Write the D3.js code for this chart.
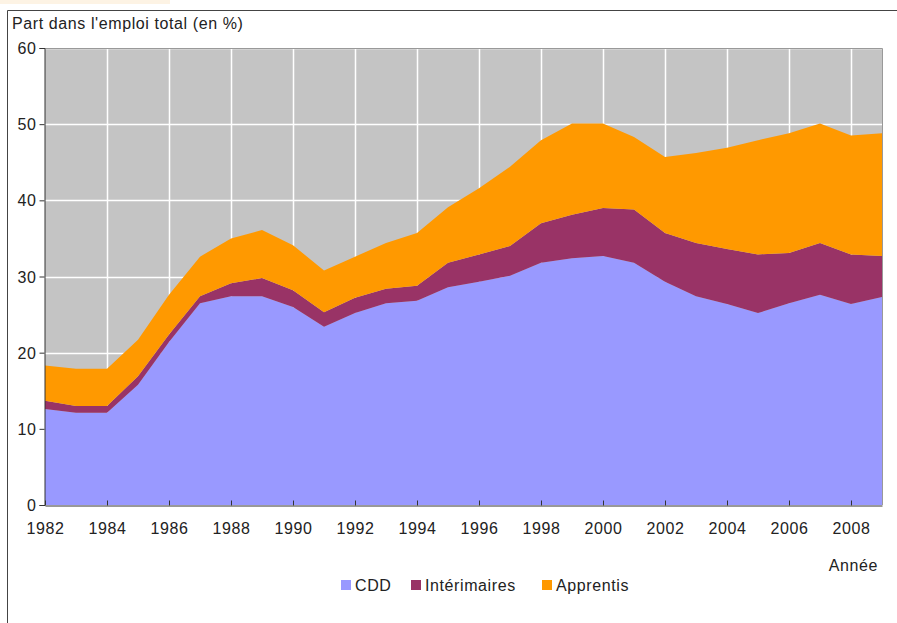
<!DOCTYPE html>
<html>
<head>
<meta charset="utf-8">
<script src="https://cdn.jsdelivr.net/npm/d3@7"></script>
<style>
  body { margin: 0; background: #fff; }
  svg text { font-family: "Liberation Sans", Arial, sans-serif; fill: #222; letter-spacing: 0.6px; }
</style>
</head>
<body>
<svg id="chart" width="897" height="623"></svg>
<script>
// years 1982 -> 2009
const years = d3.range(1982, 2010);
const cdd = [12.6, 12.1, 12.1, 15.8, 21.4, 26.5, 27.4, 27.4, 26.0, 23.4, 25.2, 26.5, 26.8, 28.6,
             29.3, 30.1, 31.8, 32.4, 32.7, 31.8, 29.3, 27.4, 26.4, 25.2, 26.5, 27.6, 26.4, 27.3];
const interim = [1.1, 0.9, 0.9, 1.1, 1.0, 0.9, 1.7, 2.4, 2.2, 1.9, 2.0, 1.9, 2.0, 3.2,
                 3.6, 3.9, 5.2, 5.7, 6.3, 7.0, 6.4, 7.0, 7.2, 7.7, 6.6, 6.8, 6.5, 5.4];
const apprentis = [4.6, 4.9, 4.9, 4.8, 5.2, 5.2, 5.9, 6.3, 5.9, 5.5, 5.4, 6.0, 6.9, 7.3,
                   8.7, 10.4, 10.9, 12.0, 11.1, 9.5, 10.0, 11.8, 13.3, 15.0, 15.7, 15.7, 15.6, 16.1];
const seriesNames = ["CDD", "Intérimaires", "Apprentis"];
const colors = ["#9999ff", "#993366", "#ff9900"];
const yTicks = [0, 10, 20, 30, 40, 50, 60];
const xTicks = d3.range(1982, 2009, 2);

const svg = d3.select("#chart");
const margin = { top: 48, left: 45, right: 882, bottom: 505 };
const fs = 16;

// frame
svg.append("rect").attr("x", 0).attr("y", 0).attr("width", 170).attr("height", 4)
    .attr("fill", "#fdf3e4");
svg.append("path").attr("d", "M7.5,623 V10.5 H897")
    .attr("fill", "none").attr("stroke", "#444").attr("stroke-width", 1);

const x = d3.scaleLinear().domain([1982, 2009]).range([margin.left, margin.right]);
const y = d3.scaleLinear().domain([0, 60]).range([margin.bottom, margin.top]);

// plot background
svg.append("rect")
    .attr("x", x(1982)).attr("y", y(60))
    .attr("width", x(2009) - x(1982)).attr("height", y(0) - y(60))
    .attr("fill", "#c4c4c4");

// grid
svg.append("g").selectAll("line").data(yTicks.slice(1))
    .join("line")
    .attr("x1", x(1982)).attr("x2", x(2009))
    .attr("y1", d => Math.round(y(d)) + 0.5).attr("y2", d => Math.round(y(d)) + 0.5)
    .attr("stroke", "#fff").attr("stroke-width", 1.5);
svg.append("g").selectAll("line").data(xTicks.slice(1))
    .join("line")
    .attr("x1", d => Math.round(x(d)) + 0.5).attr("x2", d => Math.round(x(d)) + 0.5)
    .attr("y1", y(60)).attr("y2", y(0))
    .attr("stroke", "#fff").attr("stroke-width", 1.5);

// stacked areas
const table = years.map((yr, i) => ({ year: yr, "CDD": cdd[i], "Intérimaires": interim[i], "Apprentis": apprentis[i] }));
const stack = d3.stack().keys(seriesNames)(table);
const area = d3.area()
    .x(d => x(d.data.year))
    .y0(d => y(d[0]))
    .y1(d => y(d[1]));

svg.append("g").selectAll("path").data(stack)
    .join("path")
    .attr("d", area)
    .attr("fill", (d, i) => colors[i]);

// plot border top/right
svg.append("path")
    .attr("d", `M${x(1982)},${y(60) + 0.5} H${x(2009) + 0.5} V${y(0)}`)
    .attr("fill", "none").attr("stroke", "#999").attr("stroke-width", 1);

// axes
const yAxis = d3.axisLeft(y).tickValues(yTicks).tickSize(5).tickPadding(3);
svg.append("g")
    .attr("transform", `translate(${x(1982) - 0.5},0)`)
    .call(yAxis)
    .call(g => g.selectAll("text").attr("font-size", fs).attr("dy", "0.35em"))
    .call(g => g.selectAll("line, path").attr("stroke", "#333"));

const xAxis = d3.axisBottom(x).tickValues(xTicks).tickFormat(d3.format("d")).tickSize(5).tickSizeOuter(0).tickPadding(12);
svg.append("g")
    .attr("transform", `translate(0,${y(0) + 0.5})`)
    .call(xAxis)
    .call(g => g.selectAll("text").attr("font-size", fs))
    .call(g => g.selectAll(".tick line").attr("transform", "translate(0,-5)"))
    .call(g => g.selectAll("line, path").attr("stroke", "#333"));

// titles
svg.append("text").attr("x", 12).attr("y", 29).attr("font-size", fs)
    .text("Part dans l'emploi total (en %)");
svg.append("text").attr("x", 878).attr("y", 571).attr("font-size", fs)
    .attr("text-anchor", "end").text("Année");

// legend
const legendX = [341, 411, 542];
const legend = svg.append("g").selectAll("g").data(seriesNames)
    .join("g")
    .attr("transform", (d, i) => `translate(${legendX[i]},580)`);
legend.append("rect").attr("width", 10).attr("height", 10)
    .attr("fill", (d, i) => colors[i]);
legend.append("text").attr("x", 14).attr("y", 11).attr("font-size", fs)
    .text(d => d);
</script>
</body>
</html>
